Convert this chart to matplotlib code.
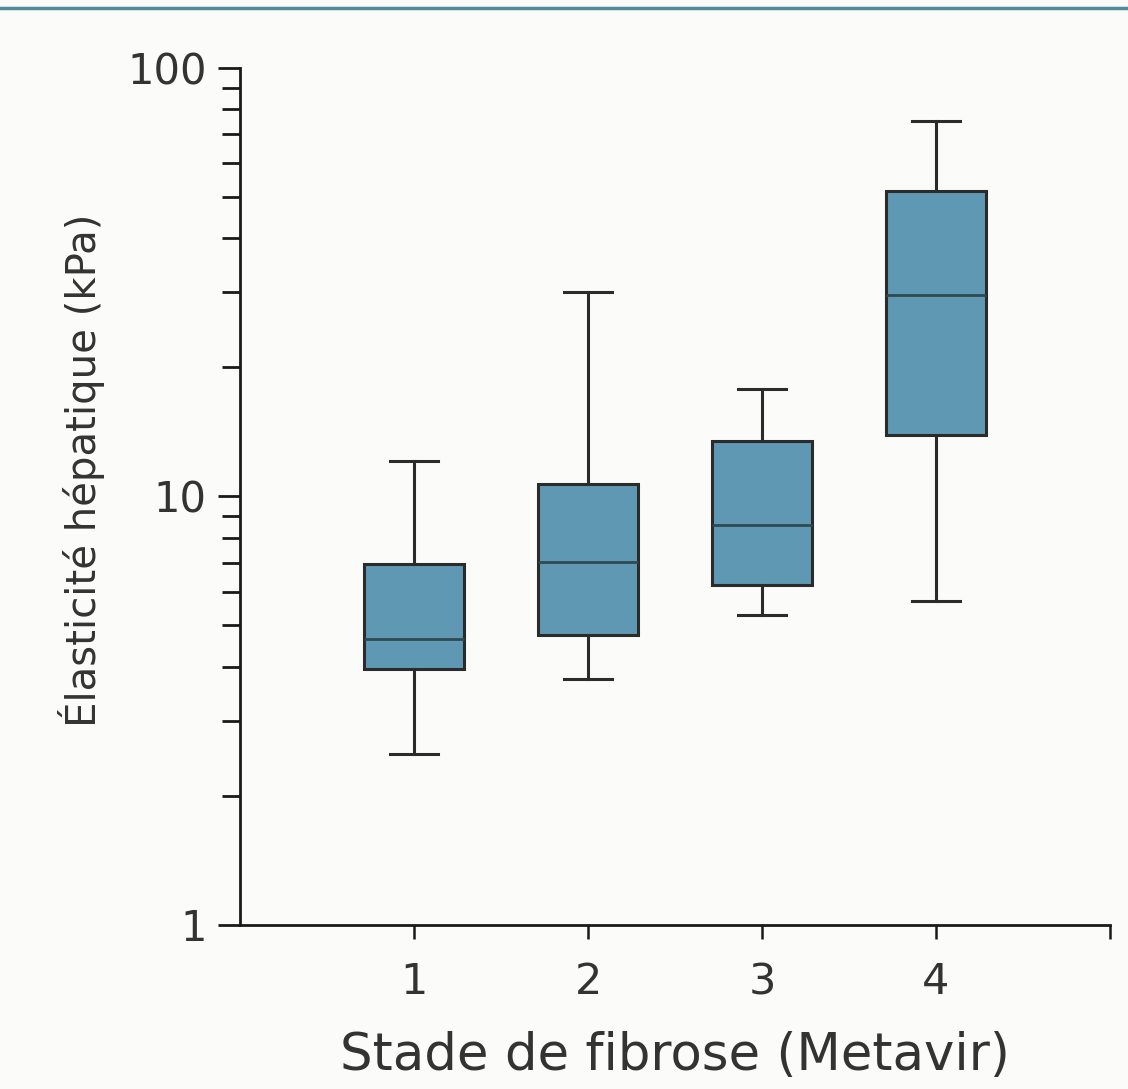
import matplotlib.pyplot as plt
from matplotlib.lines import Line2D
from matplotlib.ticker import LogLocator, NullFormatter, FixedLocator

# Liver stiffness by fibrosis stage
stages = [1, 2, 3, 4]
whisk_lo = [2.5, 3.75, 5.3, 5.7]
q1 = [3.95, 4.75, 6.2, 13.9]
median = [4.65, 7.05, 8.6, 29.5]
q3 = [6.95, 10.7, 13.5, 51.5]
whisk_hi = [12.1, 30.0, 17.8, 75.0]

box_color = "#5e98b3"
edge_color = "#2b2b2b"
bg = "#fbfbf9"

fig = plt.figure(figsize=(11.28, 10.89), dpi=100)
ax = fig.add_axes([0.2128, 0.1506, 0.7712, 0.787])
ax.set_facecolor(bg)

stats = []
for i in range(len(stages)):
    stats.append({"med": median[i], "q1": q1[i], "q3": q3[i],
                  "whislo": whisk_lo[i], "whishi": whisk_hi[i], "fliers": []})

ax.bxp(stats, positions=stages, widths=0.57, patch_artist=True, showfliers=False,
       boxprops=dict(facecolor=box_color, edgecolor=edge_color, linewidth=2.2),
       medianprops=dict(color="#2e4a50", linewidth=2.0),
       whiskerprops=dict(color=edge_color, linewidth=2.2),
       capprops=dict(color=edge_color, linewidth=2.2),
       capwidths=0.28)

ax.set_yscale("log")
ax.set_ylim(1, 100)
ax.set_xlim(0, 5)

ax.yaxis.set_major_locator(FixedLocator([1, 10, 100]))
ax.set_yticklabels(["1", "10", "100"])
ax.yaxis.set_minor_locator(LogLocator(base=10, subs=range(2, 10)))
ax.yaxis.set_minor_formatter(NullFormatter())

ax.set_xticks([1, 2, 3, 4, 5])
ax.set_xticklabels(["1", "2", "3", "4", ""])

for s in ["top", "right"]:
    ax.spines[s].set_visible(False)
for s in ["left", "bottom"]:
    ax.spines[s].set_linewidth(2.0)
    ax.spines[s].set_color("#1a1a1a")

ax.tick_params(axis="y", which="major", direction="out", length=16, width=2.0,
               labelsize=30, pad=8, colors="#1a1a1a", labelcolor="#333333")
ax.tick_params(axis="y", which="minor", direction="out", length=13, width=2.0,
               colors="#1a1a1a")
ax.tick_params(axis="x", direction="out", length=10, width=1.8,
               labelsize=31, pad=16, colors="#1a1a1a", labelcolor="#333333")

ax.set_xlabel("Stade de fibrose (Metavir)", fontsize=37, color="#333333", labelpad=20)
ax.set_ylabel("Élasticité hépatique (kPa)", fontsize=29, color="#333333")
ax.yaxis.set_label_coords(-0.155, 0.53)

# thin teal rule across the top of the page
fig.add_artist(Line2D([0, 1], [0.9925, 0.9925], transform=fig.transFigure,
                      color="#4f8c98", linewidth=2.5))

fig.savefig("out.png", dpi=100, facecolor=bg)
